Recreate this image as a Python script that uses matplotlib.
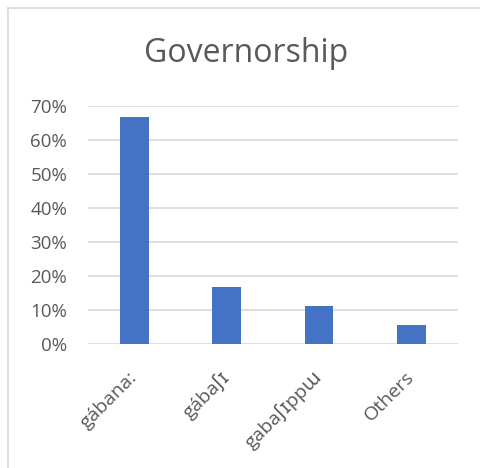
import matplotlib
matplotlib.use('Agg')
import matplotlib.pyplot as plt
from matplotlib.lines import Line2D
from matplotlib.ticker import PercentFormatter

plt.rcParams['font.family'] = ['Open Sans', 'DejaVu Sans']

categorias = ['gábana:', 'gábaʃɪ', 'gabaʃɪppɯ', 'Others']
valores = [0.6667, 0.1667, 0.1111, 0.0556]
yticks = [0, 0.1, 0.2, 0.3, 0.4, 0.5, 0.6, 0.7]

cinza = '#595959'
azul = '#4472C4'

fig = plt.figure(figsize=(4.8, 4.68), dpi=100)

# moldura do grafico (so aparecem as bordas de cima e da esquerda)
bx = 7.5 / 480
by = 1 - 7.5 / 468
fig.add_artist(Line2D([bx, 1.0], [by, by], transform=fig.transFigure,
                      color='#D9D9D9', linewidth=1.2))
fig.add_artist(Line2D([bx, bx], [0.0, by], transform=fig.transFigure,
                      color='#D9D9D9', linewidth=1.2))

ax = fig.add_axes([88 / 480, 1 - 344 / 468, (457.7 - 88) / 480, (344 - 106) / 468])
x = range(len(categorias))
ax.bar(x, valores, width=0.31, color=azul, zorder=3)

ax.set_ylim(0, 0.7)
ax.set_xlim(-0.5, len(categorias) - 0.5)
ax.set_yticks(yticks)
ax.yaxis.set_major_formatter(PercentFormatter(1.0, decimals=0))
ax.grid(axis='y', color='#D9D9D9', linewidth=1.2, zorder=0)
for s in ax.spines.values():
    s.set_visible(False)
ax.tick_params(axis='both', length=0, colors=cinza)
ax.tick_params(axis='y', pad=15, labelsize=13.5)

ax.set_xticks(list(x))
ax.set_xticklabels(categorias, rotation=45, ha='right', va='center',
                   rotation_mode='anchor', color=cinza, fontsize=14)
ax.tick_params(axis='x', pad=22)

fig.text(246 / 480, 1 - 53 / 468, 'Governorship', ha='center', va='center',
         fontsize=23, color=cinza)

fig.savefig('out.png', dpi=100)
